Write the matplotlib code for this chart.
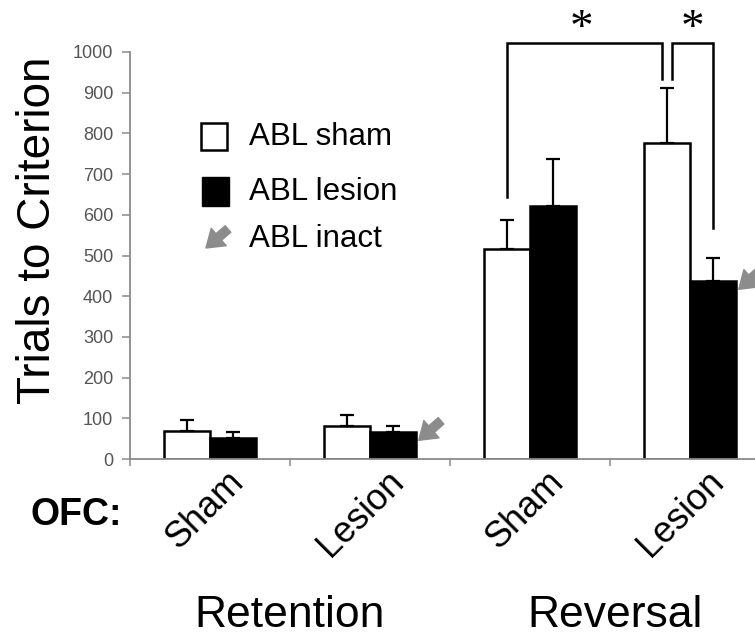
import matplotlib
matplotlib.use("Agg")
import matplotlib.pyplot as plt
from matplotlib.patches import Rectangle, FancyArrowPatch
from matplotlib.transforms import ScaledTranslation
import numpy as np

plt.rcParams['font.family'] = ['Liberation Sans', 'DejaVu Sans']

# ---- data ----
categories = ["Sham", "Lesion", "Sham", "Lesion"]
phases = ["Retention", "Reversal"]
sham_mean = [70, 82, 515, 776]
sham_err = [25, 26, 72, 135]
lesion_mean = [52, 66, 622, 437]
lesion_err = [14, 15, 115, 57]
inact_flags = [False, True, False, True]
legend_labels = ["ABL sham", "ABL lesion", "ABL inact"]
yticks = list(range(0, 1001, 100))
bracket_top = 1022
bracket_left_ends = [644, 934]
bracket_right_ends = [934, 568]

W, H = 755, 635
fig = plt.figure(figsize=(W / 100, H / 100), dpi=100)
ax = fig.add_axes([130 / W, (H - 459) / H, 640 / W, 407 / H])

x = np.arange(len(categories))
w = 0.285
axis_gray = "#8a8a8a"

ekw = dict(elinewidth=1.6, capthick=1.6, ecolor="black")
ax.bar(x - w / 2, sham_mean, w, color="white", edgecolor="black", linewidth=1.8,
       yerr=[np.zeros(4), sham_err], capsize=5, error_kw=ekw, zorder=2)
ax.bar(x + w / 2, lesion_mean, w, color="black", edgecolor="black", linewidth=1.8,
       yerr=[np.zeros(4), lesion_err], capsize=5, error_kw=ekw, zorder=2)

ax.set_xlim(-0.5, 3.5)
ax.set_ylim(0, 1000)

for s in ["top", "right"]:
    ax.spines[s].set_visible(False)
for s in ["left", "bottom"]:
    ax.spines[s].set_color(axis_gray)
    ax.spines[s].set_linewidth(1.3)

ax.set_yticks(yticks)
ax.set_yticklabels([str(v) for v in yticks], fontsize=13, color="#555555")
ax.tick_params(axis="y", direction="out", length=6, width=1.1, color=axis_gray, pad=6)

ax.set_xticks(np.arange(-0.5, 4.0, 1.0))
ax.set_xticklabels([])
ax.tick_params(axis="x", which="major", direction="out", length=5, width=1.1, color=axis_gray)
ax.set_xticks(x, categories, minor=True)
ax.tick_params(axis="x", which="minor", length=0, pad=0)
off = ScaledTranslation(0.35, -0.24, fig.dpi_scale_trans)
for lab in ax.get_xticklabels(minor=True):
    lab.set_rotation(45)
    lab.set_ha("right")
    lab.set_va("baseline")
    lab.set_rotation_mode("anchor")
    lab.set_fontsize(26)
    lab.set_transform(lab.get_transform() + off)

# significance brackets
gap = 0.03
lx0 = x[2] - w / 2
lx1 = x[3] - w / 2 - gap
rx0 = x[3] - w / 2 + gap
rx1 = x[3] + w / 2
ax.plot([lx0, lx0, lx1, lx1], [bracket_left_ends[0], bracket_top, bracket_top, bracket_left_ends[1]],
        color="black", lw=1.8, clip_on=False, solid_joinstyle="miter")
ax.plot([rx0, rx0, rx1, rx1], [bracket_right_ends[0], bracket_top, bracket_top, bracket_right_ends[1]],
        color="black", lw=1.8, clip_on=False, solid_joinstyle="miter")
for cx in [(lx0 + lx1) / 2 - 0.02, (rx0 + rx1) / 2]:
    ax.text(cx, bracket_top + 4, "*", ha="center", va="baseline", fontsize=34,
            family="Liberation Serif", clip_on=False)

# inactivation arrows
arrow_kw = dict(arrowstyle="simple,head_length=0.55,head_width=0.75,tail_width=0.28",
                color="#8c8c8c", mutation_scale=22, shrinkA=0, shrinkB=0)
for i, flag in enumerate(inact_flags):
    if flag:
        ax.annotate("", xy=(x[i] + w + 0.02, lesion_mean[i] - 20), xycoords="data",
                    xytext=(16, 14), textcoords="offset points",
                    arrowprops=arrow_kw, annotation_clip=False)

# y label
fig.text(50 / W, (H - 230) / H, "Trials to Criterion", rotation=90, rotation_mode="anchor",
         ha="center", va="baseline", fontsize=33)

# OFC and phase labels
fig.text(30 / W, (H - 525) / H, "OFC:", ha="left", va="baseline", fontsize=27, fontweight="bold")
fig.text(290 / W, (H - 627) / H, phases[0], ha="center", va="baseline", fontsize=32)
fig.text(615 / W, (H - 627) / H, phases[1], ha="center", va="baseline", fontsize=32)

# manual legend
fig.add_artist(Rectangle((201 / W, (H - 150) / H), 26 / W, 27 / H, transform=fig.transFigure,
                         facecolor="white", edgecolor="black", linewidth=1.8))
fig.add_artist(Rectangle((202 / W, (H - 206) / H), 27 / W, 29 / H, transform=fig.transFigure,
                         facecolor="black", edgecolor="black", linewidth=1.0))
fig.add_artist(FancyArrowPatch((228 / W, (H - 229) / H), (206 / W, (H - 248) / H),
                               transform=fig.transFigure, **arrow_kw))
for lbl, yc in zip(legend_labels, [137, 192, 239]):
    fig.text(249 / W, (H - yc) / H, lbl, ha="left", va="center", fontsize=22.5)

fig.savefig("out.png", dpi=100)
